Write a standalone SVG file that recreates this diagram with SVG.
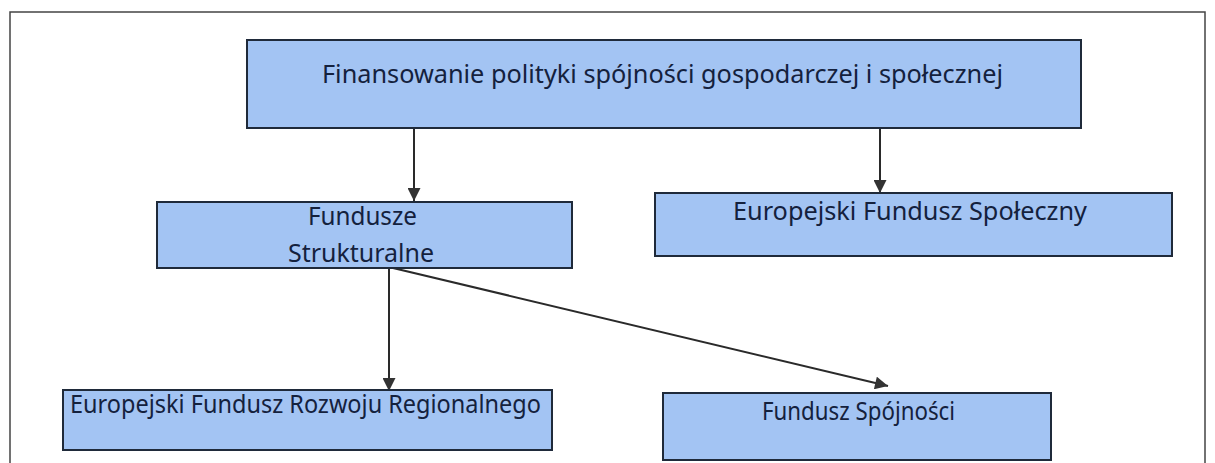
<svg xmlns="http://www.w3.org/2000/svg" width="1215" height="463" viewBox="0 0 1215 463">
<style>
.box{fill:#a3c4f3;stroke:#1f2a3a;stroke-width:2}
.t{font-family:"Noto Sans","Open Sans","Liberation Sans",sans-serif;font-size:25px;fill:#14213d}
.c{stroke:#2a2a2a;stroke-width:2;fill:none}
</style>
<defs>
<marker id="ah" viewBox="0 0 10 10" refX="10" refY="5" markerWidth="14" markerHeight="13" markerUnits="userSpaceOnUse" orient="auto">
<path d="M0,0 L10,5 L0,10 z" fill="#333"/>
</marker>
</defs>
<rect width="1215" height="463" fill="#fff"/>
<path d="M10,463 V12 H1205 V463" fill="none" stroke="#444" stroke-width="1.5"/>
<g id="connectors">
<line class="c" x1="414" y1="129" x2="414" y2="201" marker-end="url(#ah)"/>
<line class="c" x1="880" y1="129" x2="880" y2="193" marker-end="url(#ah)"/>
<line class="c" x1="389" y1="268" x2="389" y2="391" marker-end="url(#ah)"/>
<line class="c" x1="393" y1="268" x2="888" y2="386" marker-end="url(#ah)"/>
</g>
<g id="n-top">
<rect class="box" x="247" y="40" width="834" height="88"/>
<text class="t" x="322" y="83" textLength="681" lengthAdjust="spacingAndGlyphs">Finansowanie polityki spójności gospodarczej i społecznej</text>
</g>
<g id="n-fs">
<rect class="box" x="157" y="202" width="415" height="66"/>
<text class="t" x="308" y="225" textLength="109" lengthAdjust="spacingAndGlyphs">Fundusze</text>
<text class="t" x="288" y="262" textLength="146" lengthAdjust="spacingAndGlyphs">Strukturalne</text>
</g>
<g id="n-efs">
<rect class="box" x="655" y="193" width="517" height="63"/>
<text class="t" x="733" y="220" textLength="354" lengthAdjust="spacingAndGlyphs">Europejski Fundusz Społeczny</text>
</g>
<g id="n-efrr">
<rect class="box" x="63" y="390" width="489" height="60"/>
<text class="t" x="70" y="413" textLength="471" lengthAdjust="spacingAndGlyphs">Europejski Fundusz Rozwoju Regionalnego</text>
</g>
<g id="n-fsp">
<rect class="box" x="663" y="393" width="388" height="67"/>
<text class="t" x="762" y="420" textLength="193" lengthAdjust="spacingAndGlyphs">Fundusz Spójności</text>
</g>
</svg>
